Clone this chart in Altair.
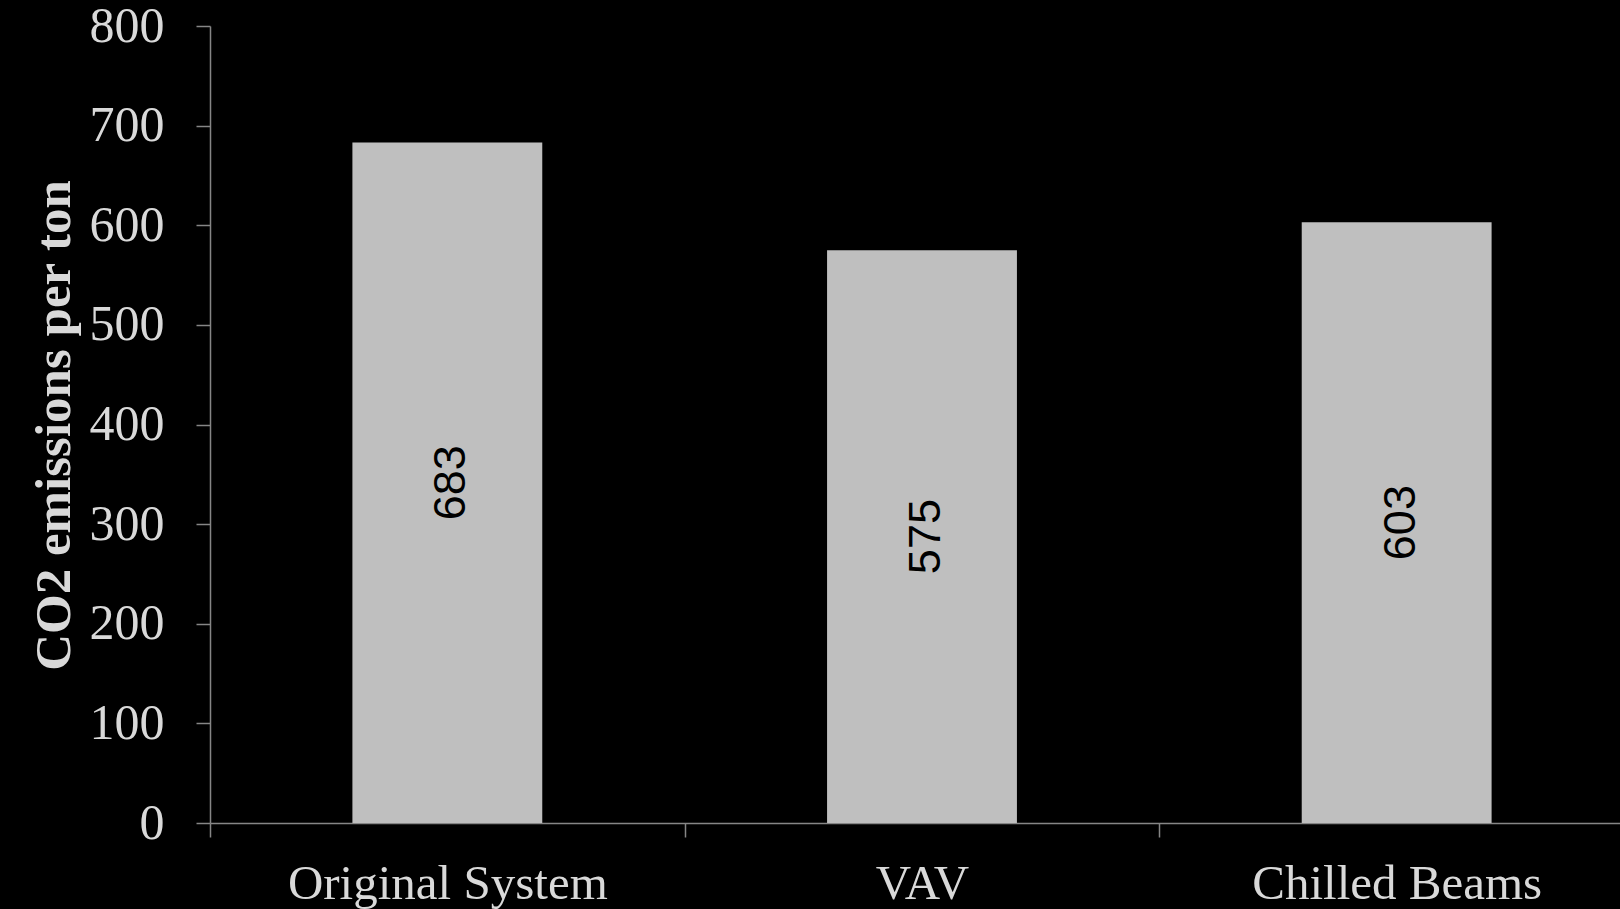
import altair as alt
import pandas as pd

# CO2 emissions per ton for each HVAC option
systems = ["Original System", "VAV", "Chilled Beams"]
emissions = [683, 575, 603]

df = pd.DataFrame({"system": systems, "co2": emissions})

axis_grey = "#868686"
text_grey = "#d9d9d9"

x_enc = alt.X(
    "system:N",
    sort=systems,
    title="",
    scale=alt.Scale(range=[0, 1424], paddingInner=0, paddingOuter=0),
    axis=alt.Axis(
        labelAngle=0,
        labelLimit=0,
        tickBand="extent",
        tickSize=14,
        labelPadding=22,
        labelFont="Liberation Serif",
        labelFontSize=49,
        labelColor=text_grey,
        domainColor=axis_grey,
        tickColor=axis_grey,
        domainWidth=1.5,
        tickWidth=1.5,
    ),
)

y_scale = alt.Scale(domain=[0, 800], nice=False)

bars = alt.Chart(df).mark_bar(
    color="#bfbfbf", width=alt.RelativeBandSize(0.4)
).encode(
    x=x_enc,
    y=alt.Y(
        "co2:Q",
        scale=y_scale,
        title="CO2 emissions per ton",
        axis=alt.Axis(
            values=[0, 100, 200, 300, 400, 500, 600, 700, 800],
            grid=False,
            tickSize=14,
            labelPadding=32,
            labelFont="Liberation Serif",
            labelFontSize=50,
            labelColor=text_grey,
            labelBaseline="middle",
            domainColor=axis_grey,
            tickColor=axis_grey,
            domainWidth=1.5,
            tickWidth=1.5,
            titleFont="Liberation Serif",
            titleFontSize=51,
            titleFontWeight="bold",
            titleColor=text_grey,
            titleAngle=270,
            titleAlign="center",
            titleBaseline="middle",
            titleX=-156,
            titleY=399,
        ),
    ),
)

labels = alt.Chart(df).transform_calculate(
    mid="datum.co2 / 2"
).mark_text(
    angle=270,
    align="center",
    baseline="middle",
    font="Liberation Sans",
    fontSize=45,
    color="#000000",
    dy=4,
).encode(
    x=alt.X("system:N", sort=systems),
    y=alt.Y("mid:Q", scale=y_scale),
    text=alt.Text("co2:Q"),
)

chart = (
    alt.layer(bars, labels)
    .properties(
        width=1410,
        height=797,
        background="#000000",
        padding={"left": 210, "top": 26, "right": 0, "bottom": 86},
        autosize=alt.AutoSizeParams(type="none"),
    )
    .configure_view(stroke=None)
)

chart.save("out.html", embed_options={"renderer": "svg", "actions": False})
